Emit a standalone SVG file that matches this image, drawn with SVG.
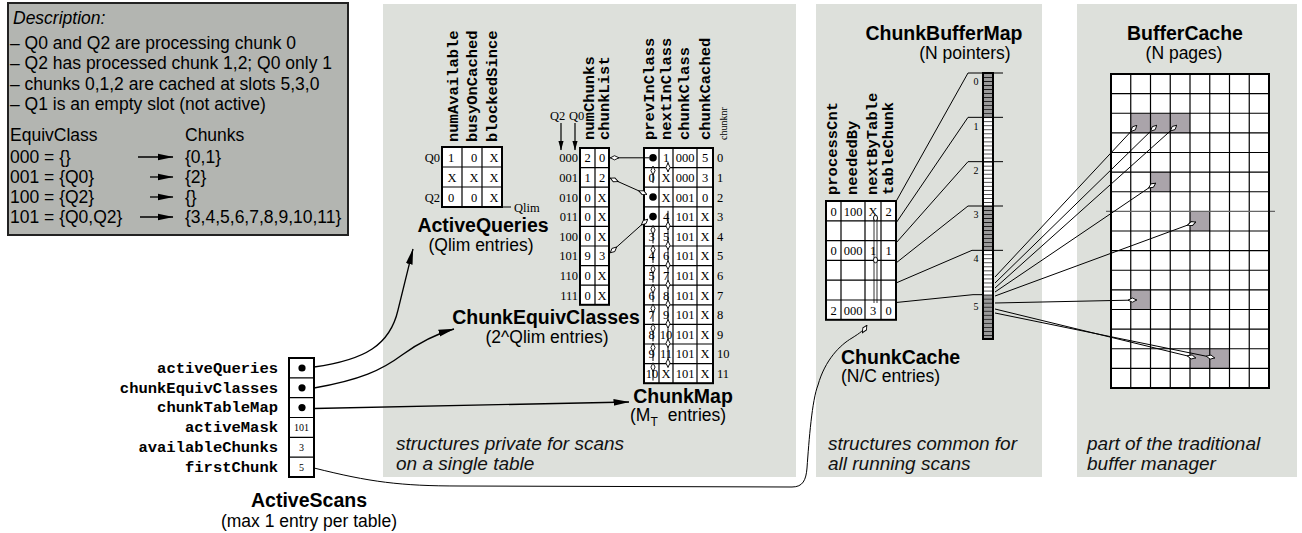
<svg xmlns="http://www.w3.org/2000/svg" width="1302" height="533" viewBox="0 0 1302 533">
<style>
.d{font-family:"Liberation Sans",Arial,sans-serif;font-size:17.5px;fill:#000}
.ti{font-family:"Liberation Sans",Arial,sans-serif;font-size:19.5px;font-weight:bold;fill:#000}
.su{font-family:"Liberation Sans",Arial,sans-serif;font-size:17.5px;fill:#000}
.it{font-family:"Liberation Sans",Arial,sans-serif;font-size:19px;font-style:italic;fill:#111}
.mo{font-family:"Liberation Mono","Courier New",monospace;font-size:15.5px;font-weight:bold;fill:#000}
.se{font-family:"Liberation Serif","Times New Roman",serif;font-size:12.5px;fill:#000}
.ss{font-family:"Liberation Serif","Times New Roman",serif;font-size:10px;fill:#000}
.c{text-anchor:middle}
.e{text-anchor:end}
.box{fill:#fff;stroke:#000;stroke-width:2}
.frame{fill:none;stroke:#000;stroke-width:2}
.grid{fill:none;stroke:#000;stroke-width:1.2}
.panel{fill:#dde0db}
.ln{fill:none;stroke:#000;stroke-width:1}
.od{fill:none;stroke:#000;stroke-width:1;marker-end:url(#od)}
.fa{fill:none;stroke:#000;stroke-width:1.3;marker-end:url(#fa)}
.pg{fill:#aaa4aa}
</style>
<defs>
<marker id="od" viewBox="0 0 10 6" refX="10" refY="3" markerWidth="10" markerHeight="6" orient="auto-start-reverse" markerUnits="userSpaceOnUse"><path d="M1,3 L5.5,0.9 L9.6,3 L5.5,5.1 Z" fill="#fff" stroke="#000" stroke-width="0.9"/></marker>
<marker id="fa" viewBox="0 0 16 8" refX="15.5" refY="4" markerWidth="16" markerHeight="8" orient="auto" markerUnits="userSpaceOnUse"><path d="M0,0.6 L16,4 L0,7.4 Z" fill="#000"/></marker>
<marker id="sa" viewBox="0 0 10 6" refX="9.5" refY="3" markerWidth="10" markerHeight="6" orient="auto" markerUnits="userSpaceOnUse"><path d="M0,0.3 L10,3 L0,5.7 Z" fill="#000"/></marker>
<pattern id="stripe" x="0" y="73" width="20" height="4.0303" patternUnits="userSpaceOnUse"><rect x="0" y="0" width="20" height="0.7" fill="#000"/></pattern>
</defs>

<g id="panels">
<rect class="panel" x="383" y="4" width="413" height="473"/>
<rect class="panel" x="816" y="4" width="226" height="473"/>
<rect class="panel" x="1077" y="4" width="220" height="473"/>
<text class="it" x="396" y="450">structures private for scans</text>
<text class="it" x="396" y="470">on a single table</text>
<text class="it" x="828" y="450">structures common for</text>
<text class="it" x="828" y="470">all running scans</text>
<text class="it" x="1087" y="450">part of the traditional</text>
<text class="it" x="1087" y="470">buffer manager</text>
</g>

<g id="description">
<rect x="8" y="3" width="340" height="232" fill="#b3b5b1" stroke="#222" stroke-width="2"/>
<text class="d" x="13" y="24" font-style="italic">Description:</text>
<text class="d" x="10" y="49">– Q0 and Q2 are processing chunk 0</text>
<text class="d" x="10" y="69.3">– Q2 has processed chunk 1,2; Q0 only 1</text>
<text class="d" x="10" y="89.6">– chunks 0,1,2 are cached at slots 5,3,0</text>
<text class="d" x="10" y="110">– Q1 is an empty slot (not active)</text>
<text class="d" x="10" y="141">EquivClass</text>
<text class="d" x="185" y="141">Chunks</text>
<text class="d" x="10" y="163">000 = {}</text>
<text class="d" x="185" y="163">{0,1}</text>
<text class="d" x="10" y="183">001 = {Q0}</text>
<text class="d" x="185" y="183">{2}</text>
<text class="d" x="10" y="203">100 = {Q2}</text>
<text class="d" x="185" y="203">{}</text>
<text class="d" x="10" y="223">101 = {Q0,Q2}</text>
<text class="d" x="185" y="223">{3,4,5,6,7,8,9,10,11}</text>
<line class="fa" x1="138" y1="157" x2="173" y2="157"/>
<line class="fa" x1="150" y1="177" x2="173" y2="177"/>
<line class="fa" x1="150" y1="197" x2="173" y2="197"/>
<line class="fa" x1="140" y1="217" x2="173" y2="217"/>
</g>

<g id="activeQueries">
<text class="mo" transform="translate(458,142) rotate(-90)">numAvailable</text>
<text class="mo" transform="translate(477,142) rotate(-90)">busyOnCached</text>
<text class="mo" transform="translate(497,142) rotate(-90)">blockedSince</text>
<rect class="box" x="442" y="147" width="60" height="60"/>
<path class="grid" d="M462,147V207M482,147V207M442,167H502M442,187H502"/>
<line class="ln" x1="502" y1="207" x2="511" y2="207"/>
<text class="se" x="514" y="212">Qlim</text>
<text class="se e" x="440" y="161.5">Q0</text>
<text class="se e" x="440" y="201.5">Q2</text>
<text class="se c" x="451" y="161.5">1</text><text class="se c" x="474" y="161.5">0</text><text class="se c" x="494" y="161.5">X</text>
<text class="se c" x="452" y="181.5">X</text><text class="se c" x="474" y="181.5">X</text><text class="se c" x="494" y="181.5">X</text>
<text class="se c" x="451" y="201.5">0</text><text class="se c" x="474" y="201.5">0</text><text class="se c" x="494" y="201.5">X</text>
<text class="ti c" x="483" y="232">ActiveQueries</text>
<text class="su c" x="481" y="251">(Qlim entries)</text>
</g>

<g id="chunkEquivClasses">
<text class="se" x="550" y="120">Q2</text>
<text class="se" x="569" y="120">Q0</text>
<line x1="561" y1="123" x2="561" y2="150" stroke="#000" stroke-width="1.2" marker-end="url(#sa)"/>
<line x1="575" y1="123" x2="575" y2="150" stroke="#000" stroke-width="1.2" marker-end="url(#sa)"/>
<text class="mo" transform="translate(594,140) rotate(-90)">numChunks</text>
<text class="mo" transform="translate(609,140) rotate(-90)">chunkList</text>
<rect class="box" x="580" y="148" width="29" height="156.8"/>
<path class="grid" d="M595,148V304.8M580,167.6H609M580,187.2H609M580,206.8H609M580,226.4H609M580,246H609M580,265.6H609M580,285.2H609"/>
<text class="se e" x="578" y="162.3">000</text><text class="se c" x="587.5" y="162.3">2</text><text class="se c" x="602" y="162.3">0</text>
<text class="se e" x="578" y="181.9">001</text><text class="se c" x="587.5" y="181.9">1</text><text class="se c" x="602" y="181.9">2</text>
<text class="se e" x="578" y="201.5">010</text><text class="se c" x="587.5" y="201.5">0</text><text class="se c" x="602" y="201.5">X</text>
<text class="se e" x="578" y="221.1">011</text><text class="se c" x="587.5" y="221.1">0</text><text class="se c" x="602" y="221.1">X</text>
<text class="se e" x="578" y="240.7">100</text><text class="se c" x="587.5" y="240.7">0</text><text class="se c" x="602" y="240.7">X</text>
<text class="se e" x="578" y="260.3">101</text><text class="se c" x="587.5" y="260.3">9</text><text class="se c" x="602" y="260.3">3</text>
<text class="se e" x="578" y="279.9">110</text><text class="se c" x="587.5" y="279.9">0</text><text class="se c" x="602" y="279.9">X</text>
<text class="se e" x="578" y="299.5">111</text><text class="se c" x="587.5" y="299.5">0</text><text class="se c" x="602" y="299.5">X</text>
<text class="ti c" x="546" y="324">ChunkEquivClasses</text>
<text class="su c" x="547" y="343">(2^Qlim entries)</text>
</g>

<g id="chunkMap">
<text class="mo" transform="translate(654,140) rotate(-90)">prevInClass</text>
<text class="mo" transform="translate(671,140) rotate(-90)">nextInClass</text>
<text class="mo" transform="translate(689,140) rotate(-90)">chunkClass</text>
<text class="mo" transform="translate(710,140) rotate(-90)">chunkCached</text>
<text class="ss" transform="translate(727,140) rotate(-90)">chunknr</text>
<rect class="box" x="644" y="148" width="69" height="235.2"/>
<path class="grid" d="M659,148V383.2M673,148V383.2M697,148V383.2M644,167.6H713M644,187.2H713M644,206.8H713M644,226.4H713M644,246H713M644,265.6H713M644,285.2H713M644,304.8H713M644,324.4H713M644,344H713M644,363.6H713"/>
<circle cx="653" cy="157.8" r="3.8"/>
<circle cx="653" cy="197" r="3.8"/>
<circle cx="653" cy="216.6" r="3.8"/>
<g class="se c">
<text x="666" y="162.3">1</text><text x="685" y="162.3">000</text><text x="705" y="162.3">5</text>
<text x="651.5" y="181.9">0</text><text x="666" y="181.9">X</text><text x="685" y="181.9">000</text><text x="705" y="181.9">3</text>
<text x="666" y="201.5">X</text><text x="685" y="201.5">001</text><text x="705" y="201.5">0</text>
<text x="666" y="221.1">4</text><text x="685" y="221.1">101</text><text x="705" y="221.1">X</text>
<text x="651.5" y="240.7">3</text><text x="666" y="240.7">5</text><text x="685" y="240.7">101</text><text x="705" y="240.7">X</text>
<text x="651.5" y="260.3">4</text><text x="666" y="260.3">6</text><text x="685" y="260.3">101</text><text x="705" y="260.3">X</text>
<text x="651.5" y="279.9">5</text><text x="666" y="279.9">7</text><text x="685" y="279.9">101</text><text x="705" y="279.9">X</text>
<text x="651.5" y="299.5">6</text><text x="666" y="299.5">8</text><text x="685" y="299.5">101</text><text x="705" y="299.5">X</text>
<text x="651.5" y="319.1">7</text><text x="666" y="319.1">9</text><text x="685" y="319.1">101</text><text x="705" y="319.1">X</text>
<text x="651.5" y="338.7">8</text><text x="666" y="338.7">10</text><text x="685" y="338.7">101</text><text x="705" y="338.7">X</text>
<text x="651.5" y="358.3">9</text><text x="666" y="358.3">11</text><text x="685" y="358.3">101</text><text x="705" y="358.3">X</text>
<text x="652" y="377.9">10</text><text x="666" y="377.9">X</text><text x="685" y="377.9">101</text><text x="705" y="377.9">X</text>
</g>
<g class="se">
<text x="717" y="162.3">0</text><text x="717" y="181.9">1</text><text x="717" y="201.5">2</text><text x="717" y="221.1">3</text>
<text x="717" y="240.7">4</text><text x="717" y="260.3">5</text><text x="717" y="279.9">6</text><text x="717" y="299.5">7</text>
<text x="717" y="319.1">8</text><text x="717" y="338.7">9</text><text x="717" y="358.3">10</text><text x="717" y="377.9">11</text>
</g>
<text class="ti c" x="683" y="403">ChunkMap</text>
<text class="su" x="630" y="421">(M<tspan font-size="12" dy="5">T</tspan><tspan dx="10" dy="-5">entries)</tspan></text>
</g>

<g id="chunkCache">
<text class="mo" transform="translate(837,195) rotate(-90)">processCnt</text>
<text class="mo" transform="translate(857,195) rotate(-90)">neededBy</text>
<text class="mo" transform="translate(877,195) rotate(-90)">nextByTable</text>
<text class="mo" transform="translate(893,195) rotate(-90)">tableChunk</text>
<rect class="box" x="826" y="201" width="70" height="118.8"/>
<path class="grid" d="M841,201V319.8M865,201V319.8M881,201V319.8M826,220.8H896M826,240.6H896M826,260.4H896M826,280.2H896M826,300H896"/>
<g class="se c">
<text x="833.5" y="215.5">0</text><text x="853" y="215.5">100</text><text x="873" y="215.5">X</text><text x="888.5" y="215.5">2</text>
<text x="833.5" y="255">0</text><text x="853" y="255">000</text><text x="873" y="255">1</text><text x="888.5" y="255">1</text>
<text x="833.5" y="314.5">2</text><text x="853" y="314.5">000</text><text x="873" y="314.5">3</text><text x="888.5" y="314.5">0</text>
</g>
<path d="M874,217V303M877,217V303" stroke="#000" stroke-width="0.8" fill="none"/>
<ellipse cx="875.5" cy="218" rx="2" ry="2.8" fill="#fff" stroke="#000" stroke-width="0.9"/>
<ellipse cx="875.5" cy="260" rx="2" ry="2.8" fill="#fff" stroke="#000" stroke-width="0.9"/>
<text class="ti" x="841" y="364">ChunkCache</text>
<text class="su" x="841" y="382">(N/C entries)</text>
</g>

<g id="chunkBufferMap">
<text class="ti c" x="944" y="40">ChunkBufferMap</text>
<text class="su c" x="965" y="59">(N pointers)</text>
<rect x="983" y="73" width="10" height="44.33" fill="#9a9a9a"/>
<rect x="983" y="117.33" width="10" height="88.67" fill="#fff"/>
<rect x="983" y="206" width="10" height="44.33" fill="#9a9a9a"/>
<rect x="983" y="250.33" width="10" height="44.34" fill="#fff"/>
<rect x="983" y="294.67" width="10" height="44.33" fill="#9a9a9a"/>
<rect x="983" y="73" width="10" height="266" fill="url(#stripe)"/>
<rect class="frame" x="983" y="73" width="10" height="266" stroke-width="1.8"/>
<path class="ln" d="M968,73H1003M968,117.33H1003M968,161.67H1003M968,206H1003M972,250.33H1003M973,294.67H983"/>
<g class="ss c" font-size="11px">
<text x="976" y="85">0</text><text x="976" y="130">1</text><text x="976" y="174">2</text>
<text x="976" y="218">3</text><text x="976" y="262">4</text><text x="976" y="310">5</text>
</g>
</g>

<g id="bufferCache">
<text class="ti c" x="1185" y="40">BufferCache</text>
<text class="su c" x="1184" y="59">(N pages)</text>
<rect x="1111" y="74" width="158" height="314" fill="#fff"/>
<rect class="pg" x="1130.75" y="113.25" width="59.25" height="19.63"/>
<rect class="pg" x="1150.5" y="172.13" width="19.75" height="19.63"/>
<rect class="pg" x="1190" y="211.38" width="19.75" height="19.63"/>
<rect class="pg" x="1130.75" y="289.88" width="19.75" height="19.63"/>
<rect class="pg" x="1190" y="348.75" width="39.5" height="19.63"/>
<path class="grid" d="M1130.75,74V388M1150.5,74V388M1170.25,74V388M1190,74V388M1209.75,74V388M1229.5,74V388M1249.25,74V388M1111,93.63H1269M1111,113.25H1269M1111,132.88H1269M1111,152.5H1269M1111,172.13H1269M1111,191.75H1269M1111,231H1269M1111,250.63H1269M1111,270.25H1269M1111,289.88H1269M1111,309.5H1269M1111,329.13H1269M1111,348.75H1269M1111,368.38H1269"/>
<line x1="1106" y1="211.38" x2="1275" y2="211.38" stroke="#666" stroke-width="1.3"/>
<rect class="frame" x="1111" y="74" width="158" height="314"/>
</g>

<g id="activeScans">
<g class="mo e">
<text x="278" y="372.5">activeQueries</text>
<text x="278" y="392.5">chunkEquivClasses</text>
<text x="278" y="412">chunkTableMap</text>
<text x="278" y="432">activeMask</text>
<text x="278" y="452">availableChunks</text>
<text x="278" y="471.5">firstChunk</text>
</g>
<rect class="box" x="289" y="358" width="25" height="119"/>
<path class="grid" d="M289,377.8H314M289,397.7H314M289,417.5H314M289,437.3H314M289,457.2H314"/>
<circle cx="302" cy="368" r="3.6"/>
<circle cx="302" cy="387.8" r="3.6"/>
<circle cx="302" cy="407.6" r="3.6"/>
<g class="ss c">
<text x="301.5" y="431">101</text>
<text x="301.5" y="451">3</text>
<text x="301.5" y="470.5">5</text>
</g>
<text class="ti c" x="309" y="507">ActiveScans</text>
<text class="su c" x="309" y="527">(max 1 entry per table)</text>
</g>

<g id="connectors">
<path class="fa" d="M314,367 C365,360 390,345 398,310 C404,285 409,265 413,249"/>
<path class="fa" d="M314,388 C360,380 382,370 402,355 C420,342 436,334 454,329"/>
<path class="fa" d="M314,408.5 L629,402"/>
<path class="od" d="M314,468 C370,482 400,486 460,486 L792,487 C803,487 806,480 807,468 C809,440 812,400 818,385 C825,360 840,345 852,338 C860,333 864,330 867,325"/>
<line class="od" x1="649" y1="157.8" x2="610" y2="157.8"/>
<line class="od" x1="647" y1="194.5" x2="610" y2="178" marker-start="url(#od)"/>
<line class="od" x1="648" y1="219" x2="610" y2="253" marker-start="url(#od)"/>
<line class="od" x1="653" y1="183" x2="653" y2="166"/>
<line class="od" x1="653" y1="243.4" x2="653" y2="225.4"/>
<line class="od" x1="653" y1="263" x2="653" y2="245"/>
<line class="od" x1="653" y1="282.6" x2="653" y2="264.6"/>
<line class="od" x1="653" y1="302.2" x2="653" y2="284.2"/>
<line class="od" x1="653" y1="321.8" x2="653" y2="303.8"/>
<line class="od" x1="653" y1="341.4" x2="653" y2="323.4"/>
<line class="od" x1="653" y1="361" x2="653" y2="343"/>
<line class="od" x1="653" y1="380.6" x2="653" y2="362.6"/>
<line class="od" x1="668" y1="162" x2="668" y2="172"/>
<line class="od" x1="668" y1="210.8" x2="668" y2="230.4"/>
<line class="od" x1="668" y1="230.4" x2="668" y2="250"/>
<line class="od" x1="668" y1="250" x2="668" y2="269.6"/>
<line class="od" x1="668" y1="269.6" x2="668" y2="289.2"/>
<line class="od" x1="668" y1="289.2" x2="668" y2="308.8"/>
<line class="od" x1="668" y1="308.8" x2="668" y2="328.4"/>
<line class="od" x1="668" y1="328.4" x2="668" y2="348"/>
<line class="od" x1="668" y1="348" x2="668" y2="367.6"/>
<path class="ln" d="M896,201.5L968,73M896,223L968,117.33M896,243L968,161.67M896,263L968,206M896,283L972,250.33M896,302.5L973,294.67"/>
<line class="od" x1="995" y1="277" x2="1137" y2="125"/>
<line class="od" x1="995" y1="283" x2="1157" y2="125"/>
<line class="od" x1="995" y1="288" x2="1177" y2="125"/>
<line class="od" x1="995" y1="292" x2="1156" y2="183"/>
<line class="od" x1="995" y1="296" x2="1196" y2="222"/>
<line class="od" x1="995" y1="303" x2="1137" y2="300"/>
<line class="od" x1="995" y1="309" x2="1196" y2="358"/>
<line class="od" x1="995" y1="313" x2="1215" y2="358"/>
</g>
</svg>
